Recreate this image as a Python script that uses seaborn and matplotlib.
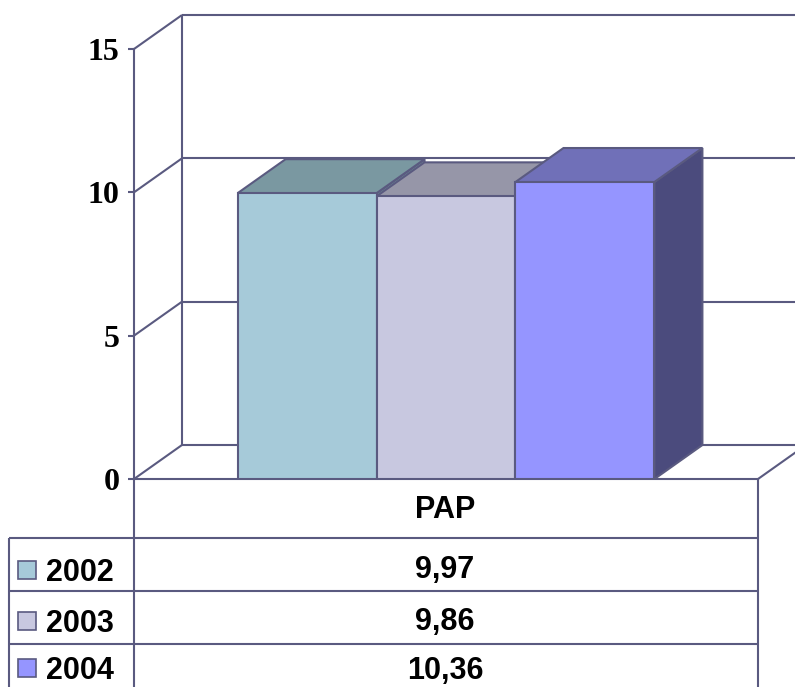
import matplotlib
matplotlib.use("Agg")
import matplotlib.pyplot as plt
from matplotlib.patches import Polygon, Rectangle
import seaborn as sns
import pandas as pd

# ---- data -------------------------------------------------------------
category = ["PAP"]
years = ["2002", "2003", "2004"]
values = [9.97, 9.86, 10.36]
y_ticks = [0, 5, 10, 15]

# ---- styling ----------------------------------------------------------
front_colors = ["#A6CAD9", "#C8C8E0", "#9595FF"]
top_colors = ["#7A98A1", "#9696A8", "#7070B8"]
side_colors = ["#6B8A94", "#84849C", "#4B4B7D"]
LINE = "#5A5A80"
LW = 1.5

sns.set_style("white")
W, H = 795, 687
fig = plt.figure(figsize=(W / 100, H / 100), dpi=100)

# front plane of the 3-D box
ax = fig.add_axes([134 / W, 1 - 479 / H, (758 - 134) / W, (479 - 49) / H])

df = pd.DataFrame({"group": category * len(years), "year": years, "value": values})
sns.barplot(data=df, x="group", y="value", hue="year", hue_order=years,
            palette=front_colors, width=0.668, saturation=1, errorbar=None,
            edgecolor=LINE, linewidth=LW, legend=False, ax=ax)

ax.set_xlim(-0.5, 0.5)
ax.set_ylim(0, 15)

# depth offset of the back wall, expressed in data units
fig.canvas.draw()
depth_px_x, depth_px_y = 48, 34
dx = depth_px_x / ax.bbox.width * (ax.get_xlim()[1] - ax.get_xlim()[0])
dy = depth_px_y / ax.bbox.height * (ax.get_ylim()[1] - ax.get_ylim()[0])

x_left, x_right = ax.get_xlim()
ymax = ax.get_ylim()[1]

# back wall, side wall and floor outlines
wall_kw = dict(color=LINE, lw=LW, clip_on=False, zorder=1, solid_capstyle="butt")
for v in y_ticks:
    ax.plot([x_left + dx, x_right + dx], [v + dy, v + dy], **wall_kw)
    ax.plot([x_left, x_left + dx], [v, v + dy], **wall_kw)
ax.plot([x_left + dx, x_left + dx], [dy, ymax + dy], **wall_kw)
ax.plot([x_right, x_right + dx], [0, dy], **wall_kw)

# extrude each bar: right side and top faces
bars = sorted(ax.patches, key=lambda p: p.get_x())
for i, p in enumerate(bars):
    x0, w, h = p.get_x(), p.get_width(), p.get_height()
    base = 3 + 2 * i
    p.set_zorder(base + 1)
    side = Polygon([(x0 + w, 0), (x0 + w + dx, dy), (x0 + w + dx, h + dy), (x0 + w, h)],
                   closed=True, facecolor=side_colors[i], edgecolor=LINE, lw=LW,
                   zorder=base, clip_on=False, joinstyle="miter")
    top = Polygon([(x0, h), (x0 + w, h), (x0 + w + dx, h + dy), (x0 + dx, h + dy)],
                  closed=True, facecolor=top_colors[i], edgecolor=LINE, lw=LW,
                  zorder=base, clip_on=False, joinstyle="miter")
    ax.add_patch(side)
    ax.add_patch(top)

ax.set_xticks([])
ax.set_xlabel("")
ax.set_ylabel("")
ax.set_yticks(y_ticks)
ax.set_yticklabels([str(t) for t in y_ticks], fontfamily="Liberation Serif",
                   fontweight="bold", fontsize=23, color="black")
ax.tick_params(axis="y", length=4.3, width=LW, color=LINE, pad=6, left=True)
for s in ["top", "right"]:
    ax.spines[s].set_visible(False)
for s in ["left", "bottom"]:
    ax.spines[s].set_color(LINE)
    ax.spines[s].set_linewidth(LW)
ax.patch.set_alpha(0)

# ---- data table beneath the chart -------------------------------------
tax = fig.add_axes([0, 0, 1, (H - 479) / H])
tax.set_xlim(0, W)
tax.set_ylim(H, 479)
tax.axis("off")

tbl_kw = dict(color=LINE, lw=LW, clip_on=False, solid_capstyle="butt")
row_lines = [538, 591, 644]
tbl_left, col_split, tbl_right = 9, 134, 758
for yl in row_lines:
    tax.plot([tbl_left, tbl_right], [yl, yl], **tbl_kw)
tax.plot([col_split, col_split], [479, H], **tbl_kw)
tax.plot([tbl_right, tbl_right], [479, H], **tbl_kw)
tax.plot([tbl_left, tbl_left], [row_lines[0], H], **tbl_kw)

font = dict(fontfamily="Liberation Sans", fontweight="bold", fontsize=22, color="black")
center_x = 445
tax.text(center_x, 518, category[0], ha="center", va="baseline", **font)

label_base = [581, 632, 679]
value_base = [578, 630, 679]
for i, (yr, v) in enumerate(zip(years, values)):
    tax.add_patch(Rectangle((18, label_base[i] - 20), 18, 18, facecolor=front_colors[i],
                            edgecolor=LINE, lw=1.2, clip_on=False))
    tax.text(46, label_base[i], yr, ha="left", va="baseline", **font)
    tax.text(center_x, value_base[i], f"{v:.2f}".replace(".", ","),
             ha="center", va="baseline", **font)

fig.savefig("out.png", dpi=100)
